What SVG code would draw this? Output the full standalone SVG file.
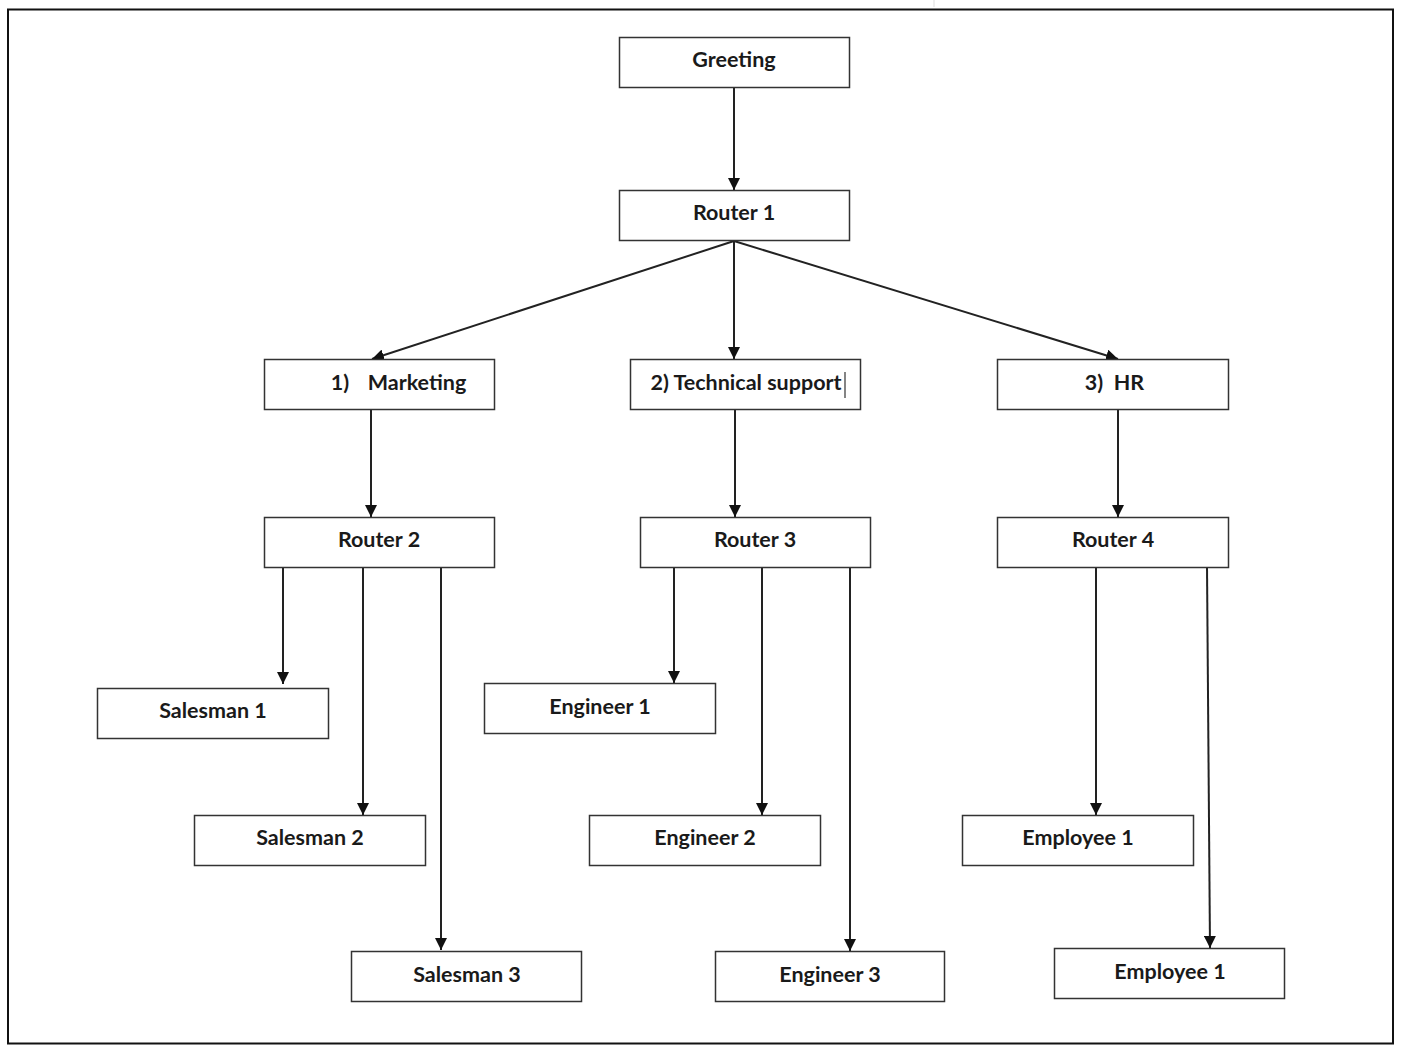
<svg xmlns="http://www.w3.org/2000/svg" width="1402" height="1045" viewBox="0 0 1402 1045">
<defs>
<marker id="ah" viewBox="0 0 10 10" refX="10" refY="5" markerWidth="12" markerHeight="12" markerUnits="userSpaceOnUse" orient="auto">
<path d="M0,0 L10,5 L0,10 z" fill="#111"/>
</marker>
<style>
.box{fill:#fff;stroke:#333;stroke-width:1.5}
.t{font-family:Lato,"Liberation Sans",sans-serif;font-weight:bold;font-size:21.5px;fill:#1a1a1a;text-anchor:middle}
.c{fill:none;stroke:#222;stroke-width:2;marker-end:url(#ah)}
</style>
</defs>
<rect x="0" y="0" width="1402" height="1045" fill="#fff"/>
<rect x="8" y="9.5" width="1385" height="1034" fill="none" stroke="#111" stroke-width="2"/>
<line x1="934" y1="0" x2="934" y2="7" stroke="#ddd" stroke-width="1"/>
<g id="connectors">
<line class="c" x1="734" y1="87" x2="734" y2="190"/>
<line class="c" x1="734" y1="241" x2="372" y2="359"/>
<line class="c" x1="734" y1="241" x2="734" y2="359"/>
<line class="c" x1="734" y1="241" x2="1118" y2="359"/>
<line class="c" x1="371" y1="410" x2="371" y2="517"/>
<line class="c" x1="735" y1="410" x2="735" y2="517"/>
<line class="c" x1="1118" y1="410" x2="1118" y2="517"/>
<line class="c" x1="283" y1="567" x2="283" y2="684"/>
<line class="c" x1="363" y1="567" x2="363" y2="815"/>
<line class="c" x1="441" y1="567" x2="441" y2="950"/>
<line class="c" x1="674" y1="567" x2="674" y2="683"/>
<line class="c" x1="762" y1="567" x2="762" y2="815"/>
<line class="c" x1="850" y1="567" x2="850" y2="951"/>
<line class="c" x1="1096" y1="567" x2="1096" y2="815"/>
<line class="c" x1="1207" y1="567" x2="1210" y2="948"/>
</g>
<g id="greeting"><rect class="box" x="619.5" y="37.5" width="230" height="50"/><text class="t" x="734" y="67">Greeting</text></g>
<g id="router1"><rect class="box" x="619.5" y="190.5" width="230" height="50"/><text class="t" x="734" y="220">Router 1</text></g>
<g id="marketing"><rect class="box" x="264.5" y="359.5" width="230" height="50"/><text class="t" x="340" y="390">1)</text><text class="t" x="417" y="390">Marketing</text></g>
<g id="techsupport"><rect class="box" x="630.5" y="359.5" width="230" height="50"/><text class="t" x="746" y="390">2) Technical support</text><line x1="845" y1="372" x2="845" y2="398" stroke="#333" stroke-width="1.2"/></g>
<g id="hr"><rect class="box" x="997.5" y="359.5" width="231" height="50"/><text class="t" x="1094" y="390">3)</text><text class="t" x="1129" y="390">HR</text></g>
<g id="router2"><rect class="box" x="264.5" y="517.5" width="230" height="50"/><text class="t" x="379" y="547">Router 2</text></g>
<g id="router3"><rect class="box" x="640.5" y="517.5" width="230" height="50"/><text class="t" x="755" y="547">Router 3</text></g>
<g id="router4"><rect class="box" x="997.5" y="517.5" width="231" height="50"/><text class="t" x="1113" y="547">Router 4</text></g>
<g id="salesman1"><rect class="box" x="97.5" y="688.5" width="231" height="50"/><text class="t" x="213" y="718">Salesman 1</text></g>
<g id="salesman2"><rect class="box" x="194.5" y="815.5" width="231" height="50"/><text class="t" x="310" y="845">Salesman 2</text></g>
<g id="salesman3"><rect class="box" x="351.5" y="951.5" width="230" height="50"/><text class="t" x="467" y="982">Salesman 3</text></g>
<g id="engineer1"><rect class="box" x="484.5" y="683.5" width="231" height="50"/><text class="t" x="600" y="714">Engineer 1</text></g>
<g id="engineer2"><rect class="box" x="589.5" y="815.5" width="231" height="50"/><text class="t" x="705" y="845">Engineer 2</text></g>
<g id="engineer3"><rect class="box" x="715.5" y="951.5" width="229" height="50"/><text class="t" x="830" y="982">Engineer 3</text></g>
<g id="employee1a"><rect class="box" x="962.5" y="815.5" width="231" height="50"/><text class="t" x="1078" y="845">Employee 1</text></g>
<g id="employee1b"><rect class="box" x="1054.5" y="948.5" width="230" height="50"/><text class="t" x="1170" y="979">Employee 1</text></g>
</svg>
